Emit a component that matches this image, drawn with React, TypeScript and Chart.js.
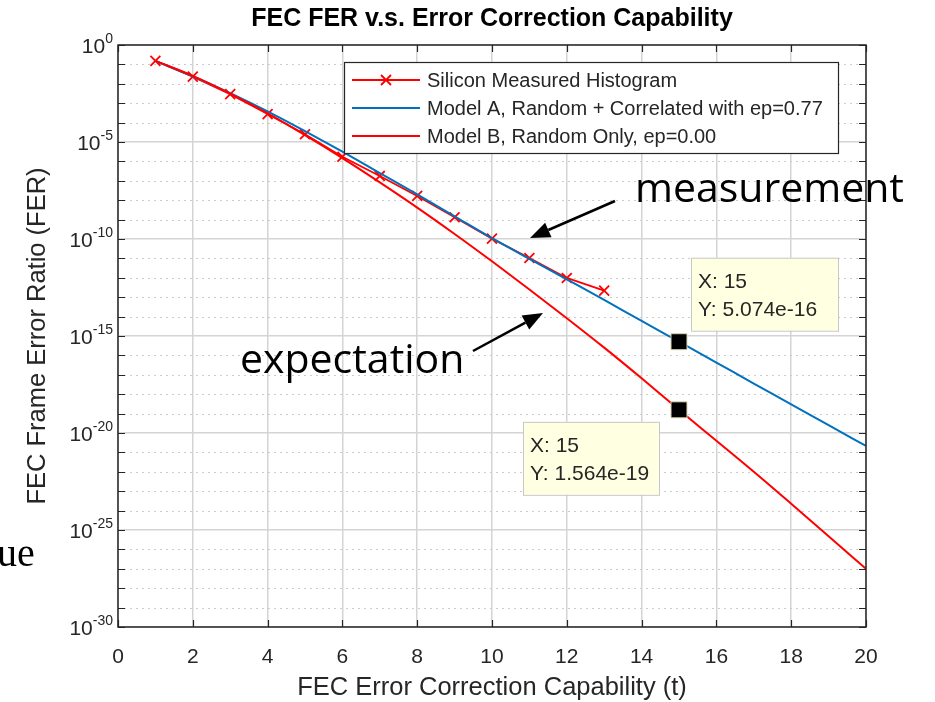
import React, { useEffect, useRef } from 'react';
import { Chart, registerables } from 'chart.js';

Chart.register(...registerables);

const FONT = "'Liberation Sans', Arial, Helvetica, sans-serif";
const ANNOT_FONT = "'Open Sans', 'Liberation Sans', sans-serif";
const SERIF = "'Liberation Serif', 'Times New Roman', serif";
const AXIS_COLOR = '#262626';
const GRID_COLOR = '#d4d4d4';
const BLUE = '#0072BD';
const RED = '#FF0000';

const chartTitle = 'FEC FER v.s. Error Correction Capability';
const xAxisTitle = 'FEC Error Correction Capability (t)';
const yAxisTitle = 'FEC Frame Error Ratio (FER)';
const seriesLabels = [
  'Silicon Measured Histogram',
  'Model A, Random + Correlated with ep=0.77',
  'Model B, Random Only, ep=0.00',
];

const measuredT = [1, 2, 3, 4, 5, 6, 7, 8, 9, 10, 11, 12, 13];
const measuredFER = [
  1.51e-1, 2.34e-2, 2.95e-3, 2.75e-4, 2.51e-5, 1.74e-6, 1.78e-7, 1.66e-8, 1.32e-9,
  1.05e-10, 1.05e-11, 9.8e-13, 2.19e-13,
];
const modelT = [1, 2, 3, 4, 5, 6, 7, 8, 9, 10, 11, 12, 13, 14, 15, 16, 17, 18, 19, 20];
const modelAFER = [
  1.51e-1, 2.4e-2, 3.31e-3, 3.8e-4, 3.63e-5, 3.16e-6, 2.51e-7, 2.0e-8, 1.48e-9, 1.1e-10,
  9.5e-12, 8.3e-13, 7.2e-14, 6.0e-15, 5.074e-16, 4.27e-17, 3.55e-18, 3.02e-19, 2.51e-20, 2.14e-21,
];
const modelBFER = [
  1.51e-1, 2.57e-2, 3.09e-3, 2.95e-4, 2.24e-5, 1.48e-6, 8.3e-8, 4.17e-9, 1.82e-10, 7.08e-12,
  2.51e-13, 8.3e-15, 2.51e-16, 6.6e-18, 1.564e-19, 3.98e-21, 1.0e-22, 2.24e-24, 4.79e-26, 1.0e-27,
];
const dataTipT = [15, 15];
const dataTipFER = [5.074e-16, 1.564e-19];
const dataTipLabels = [
  ['X: 15', 'Y: 5.074e-16'],
  ['X: 15', 'Y: 1.564e-19'],
];

const xTickValues = [0, 2, 4, 6, 8, 10, 12, 14, 16, 18, 20];
const yDecades = [
  1e0, 1e-1, 1e-2, 1e-3, 1e-4, 1e-5, 1e-6, 1e-7, 1e-8, 1e-9, 1e-10, 1e-11, 1e-12, 1e-13, 1e-14,
  1e-15, 1e-16, 1e-17, 1e-18, 1e-19, 1e-20, 1e-21, 1e-22, 1e-23, 1e-24, 1e-25, 1e-26, 1e-27,
  1e-28, 1e-29, 1e-30,
];
const yLabelExponents = ['0', '-5', '-10', '-15', '-20', '-25', '-30'];
const yLabelValues = [1e0, 1e-5, 1e-10, 1e-15, 1e-20, 1e-25, 1e-30];
const annotationTexts = ['measurement', 'expectation'];
const sideFragment = 'ue';

function isMajorDecade(v: number) {
  const e = Math.round(Math.log10(v));
  return e % 5 === 0;
}

function drawArrow(ctx: CanvasRenderingContext2D, x0: number, y0: number, x1: number, y1: number) {
  const ang = Math.atan2(y1 - y0, x1 - x0);
  const headLen = 20;
  const headHalf = 8;
  const bx = x1 - headLen * Math.cos(ang);
  const by = y1 - headLen * Math.sin(ang);
  ctx.save();
  ctx.strokeStyle = '#000';
  ctx.fillStyle = '#000';
  ctx.lineWidth = 2.5;
  ctx.beginPath();
  ctx.moveTo(x0, y0);
  ctx.lineTo(bx, by);
  ctx.stroke();
  ctx.beginPath();
  ctx.moveTo(x1, y1);
  ctx.lineTo(bx + headHalf * Math.sin(ang), by - headHalf * Math.cos(ang));
  ctx.lineTo(bx - headHalf * Math.sin(ang), by + headHalf * Math.cos(ang));
  ctx.closePath();
  ctx.fill();
  ctx.restore();
}

function drawCross(ctx: CanvasRenderingContext2D, x: number, y: number, r: number) {
  ctx.beginPath();
  ctx.moveTo(x - r, y - r);
  ctx.lineTo(x + r, y + r);
  ctx.moveTo(x - r, y + r);
  ctx.lineTo(x + r, y - r);
  ctx.stroke();
}

const decorPlugin = {
  id: 'decor',
  beforeDatasetsDraw(chart: any) {
    const { ctx, chartArea: a, scales } = chart;
    const ys = scales.y;
    ctx.save();
    ctx.strokeStyle = '#cccccc';
    ctx.lineWidth = 1;
    ctx.setLineDash([2, 4]);
    for (const v of yDecades) {
      if (isMajorDecade(v)) continue;
      const py = Math.round(ys.getPixelForValue(v)) + 0.5;
      ctx.beginPath();
      ctx.moveTo(a.left, py);
      ctx.lineTo(a.right, py);
      ctx.stroke();
    }
    ctx.restore();
  },
  afterDatasetsDraw(chart: any) {
    const { ctx, chartArea: a, scales } = chart;
    const xs = scales.x;
    const ys = scales.y;
    ctx.save();
    ctx.strokeStyle = AXIS_COLOR;
    ctx.lineWidth = 1.2;
    ctx.beginPath();
    for (const v of yDecades) {
      const py = Math.round(ys.getPixelForValue(v)) + 0.5;
      ctx.moveTo(a.left, py);
      ctx.lineTo(a.left + 7, py);
      ctx.moveTo(a.right, py);
      ctx.lineTo(a.right - 7, py);
    }
    for (const v of xTickValues) {
      const px = Math.round(xs.getPixelForValue(v)) + 0.5;
      ctx.moveTo(px, a.top);
      ctx.lineTo(px, a.top + 7);
      ctx.moveTo(px, a.bottom);
      ctx.lineTo(px, a.bottom - 7);
    }
    ctx.stroke();
    ctx.lineWidth = 1.5;
    ctx.strokeRect(a.left, a.top, a.right - a.left, a.bottom - a.top);
    ctx.restore();
  },
  afterDraw(chart: any) {
    const { ctx, chartArea: a, scales } = chart;
    const xs = scales.x;
    const ys = scales.y;
    ctx.save();

    // title
    ctx.fillStyle = '#000';
    ctx.font = `bold 25px ${FONT}`;
    ctx.textAlign = 'center';
    ctx.textBaseline = 'middle';
    ctx.fillText(chartTitle, (a.left + a.right) / 2, 19);

    // x axis title
    ctx.fillStyle = AXIS_COLOR;
    ctx.font = `25.5px ${FONT}`;
    ctx.fillText(xAxisTitle, (a.left + a.right) / 2, 688);

    // y axis title
    ctx.save();
    ctx.translate(38, (a.top + a.bottom) / 2);
    ctx.rotate(-Math.PI / 2);
    ctx.fillText(yAxisTitle, 0, 0);
    ctx.restore();

    // y tick labels with superscripts
    ctx.textBaseline = 'alphabetic';
    ctx.textAlign = 'left';
    yLabelValues.forEach((v, i) => {
      const py = ys.getPixelForValue(v);
      const exp = yLabelExponents[i];
      ctx.font = `14px ${FONT}`;
      const ew = ctx.measureText(exp).width;
      ctx.font = `21px ${FONT}`;
      const bw = ctx.measureText('10').width;
      const right = a.left - 5;
      const x0 = right - ew - bw;
      ctx.fillText('10', x0, py + 8);
      ctx.font = `14px ${FONT}`;
      ctx.fillText(exp, x0 + bw, py - 2);
    });

    // legend
    const lx = 344, ly = 62, lw = 494, lh = 91;
    ctx.fillStyle = '#fff';
    ctx.fillRect(lx, ly, lw, lh);
    ctx.strokeStyle = AXIS_COLOR;
    ctx.lineWidth = 1.2;
    ctx.strokeRect(lx + 0.5, ly + 0.5, lw, lh);
    const rowYs = [80, 108, 136];
    const rowColors = [RED, BLUE, RED];
    ctx.font = `20px ${FONT}`;
    ctx.textBaseline = 'middle';
    rowYs.forEach((ry, i) => {
      ctx.strokeStyle = rowColors[i];
      ctx.lineWidth = 2;
      ctx.beginPath();
      ctx.moveTo(352, ry);
      ctx.lineTo(420, ry);
      ctx.stroke();
      if (i === 0) {
        ctx.lineWidth = 1.8;
        drawCross(ctx, 386, ry, 5);
      }
      ctx.fillStyle = AXIS_COLOR;
      ctx.fillText(seriesLabels[i], 427, ry + 1);
    });

    // data tips
    dataTipT.forEach((t, i) => {
      const px = xs.getPixelForValue(t);
      const py = ys.getPixelForValue(dataTipFER[i]);
      let bx, by;
      const bw = i === 0 ? 147 : 136;
      const bh = 73;
      if (i === 0) {
        bx = px + 12;
        by = py - 84;
      } else {
        bx = px - 20 - bw;
        by = py + 12;
      }
      ctx.fillStyle = '#ffffe1';
      ctx.fillRect(bx, by, bw, bh);
      ctx.strokeStyle = '#c8c8c8';
      ctx.lineWidth = 1;
      ctx.strokeRect(bx + 0.5, by + 0.5, bw, bh);
      ctx.fillStyle = AXIS_COLOR;
      ctx.font = `21px ${FONT}`;
      ctx.textBaseline = 'middle';
      ctx.fillText(dataTipLabels[i][0], bx + 7, by + 24);
      ctx.fillText(dataTipLabels[i][1], bx + 7, by + 52);
    });

    // annotations
    ctx.fillStyle = '#000';
    ctx.font = `41px ${ANNOT_FONT}`;
    ctx.textBaseline = 'alphabetic';
    ctx.fillText(annotationTexts[0], 635, 202);
    ctx.fillText(annotationTexts[1], 240, 373);
    drawArrow(ctx, 615, 201, 530, 238);
    drawArrow(ctx, 473, 351, 543, 313);

    // side fragment from the source page
    ctx.font = `40px ${SERIF}`;
    ctx.fillStyle = '#000';
    ctx.fillText(sideFragment, -3, 566);

    ctx.restore();
  },
};

export default function App() {
  const canvasRef = useRef<HTMLCanvasElement | null>(null);

  useEffect(() => {
    if (!canvasRef.current) return;
    const chart = new Chart(canvasRef.current, {
      type: 'line',
      data: {
        datasets: [
          {
            label: 'datatips',
            data: dataTipT.map((t, i) => ({ x: t, y: dataTipFER[i] })),
            showLine: false,
            pointStyle: 'rect',
            pointRadius: 11.3,
            backgroundColor: '#000',
            borderColor: '#d8d4b0',
            borderWidth: 1,
          },
          {
            label: seriesLabels[2],
            data: modelT.map((t, i) => ({ x: t, y: modelBFER[i] })),
            borderColor: RED,
            borderWidth: 2,
            pointRadius: 0,
            cubicInterpolationMode: 'monotone',
          },
          {
            label: seriesLabels[1],
            data: modelT.map((t, i) => ({ x: t, y: modelAFER[i] })),
            borderColor: BLUE,
            borderWidth: 2,
            pointRadius: 0,
            cubicInterpolationMode: 'monotone',
          },
          {
            label: seriesLabels[0],
            data: measuredT.map((t, i) => ({ x: t, y: measuredFER[i] })),
            borderColor: RED,
            borderWidth: 1.8,
            pointStyle: 'crossRot',
            pointRadius: 7,
            pointBorderWidth: 1.8,
            pointBorderColor: RED,
            tension: 0,
          },
        ],
      },
      options: {
        animation: false,
        responsive: true,
        maintainAspectRatio: false,
        layout: { padding: { left: 8, top: 45, right: 69, bottom: 0 } },
        plugins: {
          legend: { display: false },
          tooltip: { enabled: false },
          title: { display: false },
        },
        events: [],
        scales: {
          x: {
            type: 'linear',
            min: 0,
            max: 20,
            ticks: {
              stepSize: 2,
              color: AXIS_COLOR,
              font: { family: FONT, size: 21 },
              padding: 18,
            },
            afterBuildTicks: (scale: any) => {
              scale.ticks = xTickValues.map((v) => ({ value: v }));
            },
            grid: { color: GRID_COLOR, lineWidth: 1.5, drawTicks: false },
            border: { display: false },
            afterFit: (scale: any) => {
              scale.height = 75;
            },
          },
          y: {
            type: 'logarithmic',
            min: 1e-30,
            max: 1,
            ticks: { display: false },
            afterBuildTicks: (scale: any) => {
              scale.ticks = yDecades.map((v) => ({ value: v }));
            },
            grid: {
              color: (c: any) =>
                c.tick && isMajorDecade(c.tick.value) ? GRID_COLOR : 'rgba(0,0,0,0)',
              lineWidth: 1.5,
              drawTicks: false,
            },
            border: { display: false },
            afterFit: (scale: any) => {
              scale.width = 110;
            },
          },
        },
      },
      plugins: [decorPlugin],
    });
    return () => chart.destroy();
  }, []);

  return (
    <div style={{ position: 'absolute', left: 0, top: 0, width: 935, height: 702, background: '#fff' }}>
      <canvas ref={canvasRef} />
    </div>
  );
}
